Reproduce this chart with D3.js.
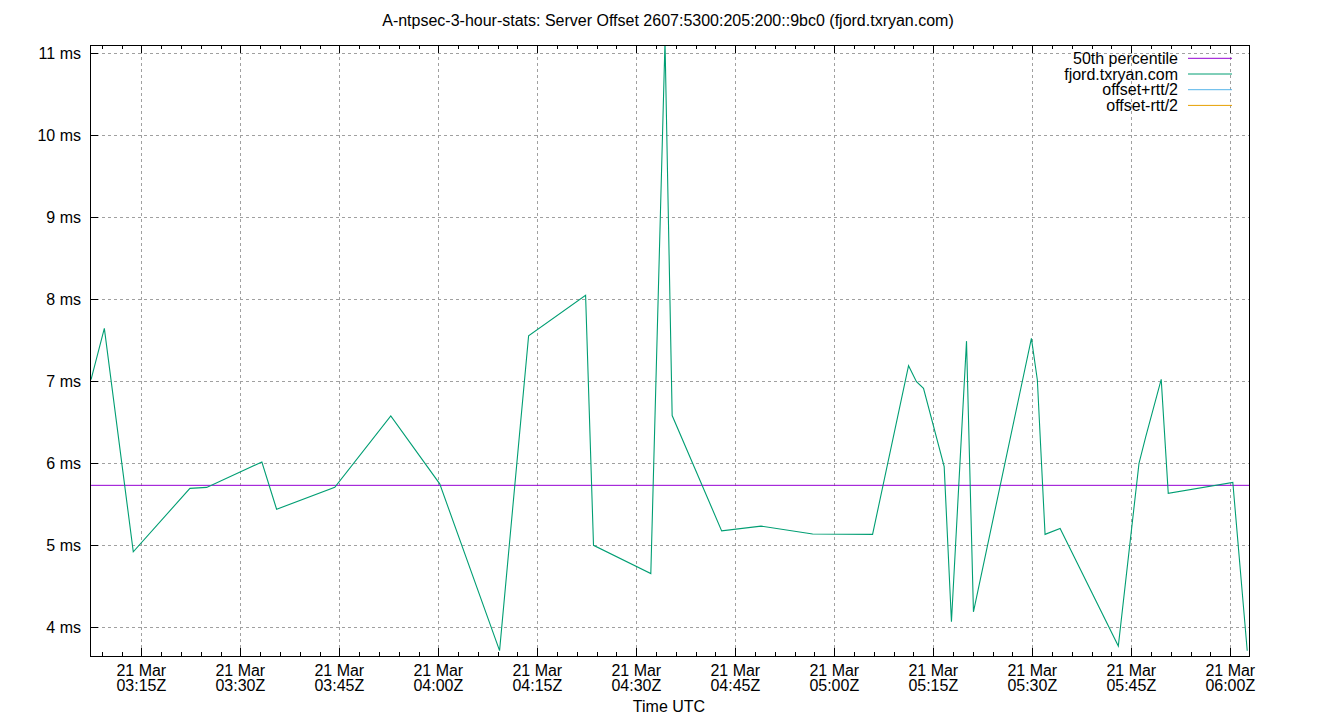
<!DOCTYPE html>
<html>
<head>
<meta charset="utf-8">
<script src="https://cdn.jsdelivr.net/npm/d3@7"></script>
<style>
  html, body { margin: 0; padding: 0; background: #fff; }
  svg { display: block; font-family: "Liberation Sans", Arial, sans-serif; }
</style>
</head>
<body>
<svg id="chart" width="1340" height="720"></svg>
<script>
// ---- data ----
const chartDate = "2025-03-21";
const sampleTimes = [
  "03:07:23","03:09:24","03:13:47","03:22:22","03:24:54","03:33:16","03:35:30",
  "03:44:19","03:52:48","04:00:13","04:09:17","04:13:41","04:22:19","04:23:31",
  "04:32:12","04:34:21","04:35:26","04:42:56","04:48:54","04:56:43","05:05:48",
  "05:11:15","05:12:27","05:13:31","05:16:39","05:17:45","05:20:02","05:21:05",
  "05:29:52","05:30:46","05:31:56","05:34:13","05:43:02","05:46:10","05:47:11",
  "05:49:32","05:50:36","06:00:23","06:02:34"
];
const offsetMs = [
  7.02, 7.646, 4.922, 5.695, 5.707, 6.016, 5.44,
  5.707, 6.577, 5.75, 3.717, 7.556, 8.05, 5.0,
  4.656, 11.15, 6.583, 5.177, 5.235, 5.138, 5.134,
  7.19, 6.995, 6.914, 5.96, 4.068, 7.49, 4.19,
  7.524, 7.016, 5.134, 5.207, 3.772, 6.0, 6.324,
  7.024, 5.634, 5.768, 3.715
];
const percentile50 = 5.732;
const yTickValues = [4, 5, 6, 7, 8, 9, 10, 11];
const xTickTimes = ["03:15","03:30","03:45","04:00","04:15","04:30","04:45","05:00","05:15","05:30","05:45","06:00"];
const xDomainTimes = ["03:07:13.6", "06:02:52.8"];
const yDomain = [3.651, 11.101];
const legendLabels = ["50th percentile", "fjord.txryan.com", "offset+rtt/2", "offset-rtt/2"];
const legendColors = ["#9400d3", "#009e73", "#56b4e9", "#e69f00"];
const titleText = "A-ntpsec-3-hour-stats: Server Offset 2607:5300:205:200::9bc0 (fjord.txryan.com)";
const xAxisLabel = "Time UTC";

// ---- layout ----
const L = 90, R = 1249.3, T = 45, B = 656;
const toDate = s => new Date(chartDate + "T" + (s.length === 5 ? s + ":00" : s) + "Z");
const data = sampleTimes.map((t, i) => ({ t: toDate(t), v: offsetMs[i] }));

const svg = d3.select("#chart");
const x = d3.scaleUtc().domain(xDomainTimes.map(toDate)).range([L, R]);
const y = d3.scaleLinear().domain(yDomain).range([B, T]);

const majorTicks = xTickTimes.map(toDate);
const minorTicks = d3.utcMinute.every(3).range(x.domain()[0], x.domain()[1]);

// grid
const grid = svg.append("g").attr("stroke", "#a0a0a0").attr("stroke-width", 1)
  .attr("stroke-dasharray", "3,3").attr("shape-rendering", "crispEdges");
grid.selectAll(".gx").data(majorTicks).enter().append("line")
  .attr("x1", d => Math.round(x(d)) + 0.5).attr("x2", d => Math.round(x(d)) + 0.5)
  .attr("y1", T).attr("y2", B);
grid.selectAll(".gy").data(yTickValues).enter().append("line")
  .attr("x1", L).attr("x2", R)
  .attr("y1", d => Math.round(y(d)) + 0.5).attr("y2", d => Math.round(y(d)) + 0.5);

// clip
svg.append("clipPath").attr("id", "plotclip").append("rect")
  .attr("x", L).attr("y", T).attr("width", R - L).attr("height", B - T);

const plot = svg.append("g").attr("clip-path", "url(#plotclip)");
// median line
plot.append("line")
  .attr("x1", L).attr("x2", R)
  .attr("y1", y(percentile50)).attr("y2", y(percentile50))
  .attr("stroke", legendColors[0]).attr("stroke-width", 1);
// server offset line
plot.append("path").datum(data)
  .attr("fill", "none").attr("stroke", legendColors[1]).attr("stroke-width", 1.1)
  .attr("d", d3.line().x(d => x(d.t)).y(d => y(d.v)));

// axes ticks
const ax = svg.append("g").attr("stroke", "#000").attr("stroke-width", 1).attr("shape-rendering", "crispEdges");
const majorSet = new Set(majorTicks.map(d => +d));
minorTicks.forEach(d => {
  const isMajor = majorSet.has(+d);
  const len = isMajor ? 8 : 4;
  const px = Math.round(x(d)) + 0.5;
  ax.append("line").attr("x1", px).attr("x2", px).attr("y1", B).attr("y2", B - len);
  ax.append("line").attr("x1", px).attr("x2", px).attr("y1", T).attr("y2", T + len);
});
yTickValues.forEach(v => {
  const py = Math.round(y(v)) + 0.5;
  ax.append("line").attr("x1", L).attr("x2", L + 8).attr("y1", py).attr("y2", py);
});
// border
ax.append("rect").attr("x", L + 0.5).attr("y", T + 0.5)
  .attr("width", R - L - 0.5).attr("height", B - T).attr("fill", "none");

// tick labels
const yl = svg.append("g").attr("font-size", 16).attr("fill", "#000").attr("text-anchor", "end");
yTickValues.forEach(v => {
  yl.append("text").attr("x", 81).attr("y", y(v) + 5.5).text(v + " ms");
});
const xl = svg.append("g").attr("font-size", 16).attr("fill", "#000").attr("text-anchor", "middle");
majorTicks.forEach(d => {
  const t = xl.append("text").attr("x", x(d)).attr("y", 676);
  t.append("tspan").attr("x", x(d)).attr("y", 676).text(d3.utcFormat("%-d %b")(d));
  t.append("tspan").attr("x", x(d)).attr("y", 690.7).text(d3.utcFormat("%H:%MZ")(d));
});

// axis label & title
svg.append("text").attr("x", 669).attr("y", 711.5).attr("text-anchor", "middle")
  .attr("font-size", 16).text(xAxisLabel);
svg.append("text").attr("x", 668).attr("y", 26).attr("text-anchor", "middle")
  .attr("font-size", 16).text(titleText);

// legend
const lg = svg.append("g");
legendLabels.forEach((lab, i) => {
  const cy = 58.3 + i * 15.7;
  lg.append("text").attr("x", 1178).attr("y", cy + 5.5).attr("text-anchor", "end")
    .attr("font-size", 16).text(lab);
  lg.append("line").attr("x1", 1188).attr("x2", 1232).attr("y1", cy).attr("y2", cy)
    .attr("stroke", legendColors[i]).attr("stroke-width", 1);
});
</script>
</body>
</html>
